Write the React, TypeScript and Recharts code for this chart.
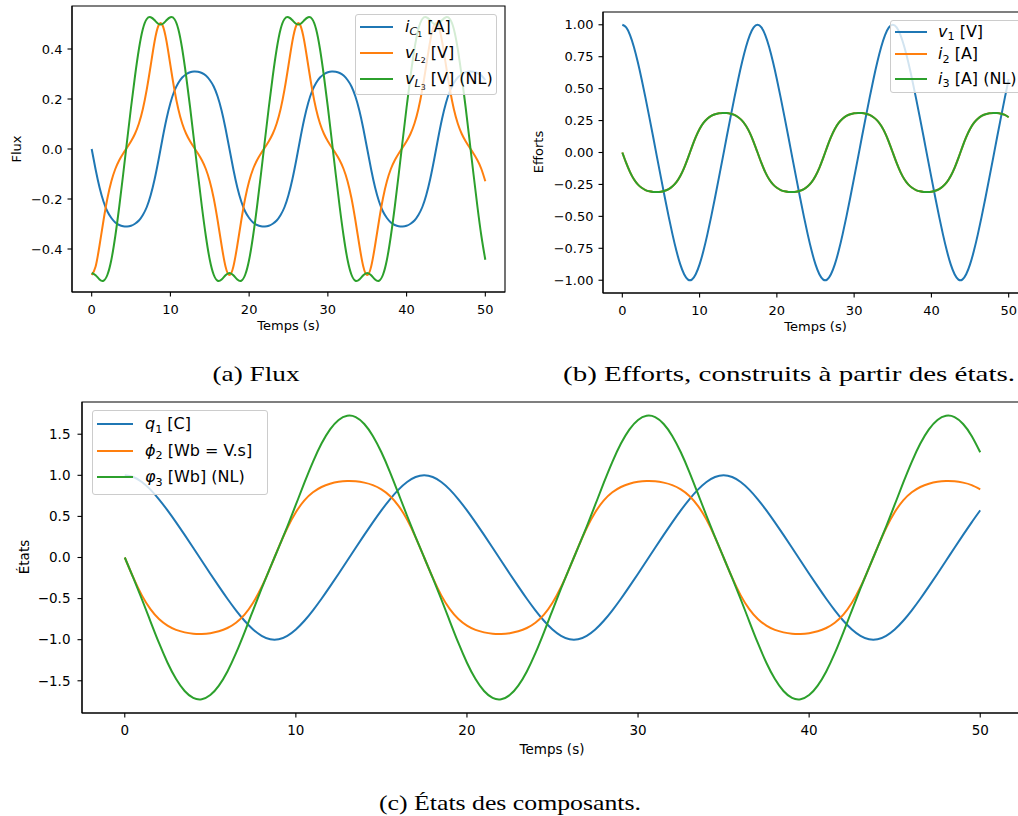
import React from 'react';
import { LineChart, Line, XAxis, YAxis, ReferenceArea } from 'recharts';

// ---------------- data ----------------
const time = [
  0, 0.5, 1, 1.5, 2, 2.5, 3, 3.5, 4, 4.5, 5, 5.5, 6, 6.5, 7, 7.5, 8, 8.5, 9, 9.5,
  10, 10.5, 11, 11.5, 12, 12.5, 13, 13.5, 14, 14.5, 15, 15.5, 16, 16.5, 17, 17.5, 18, 18.5, 19, 19.5,
  20, 20.5, 21, 21.5, 22, 22.5, 23, 23.5, 24, 24.5, 25, 25.5, 26, 26.5, 27, 27.5, 28, 28.5, 29, 29.5,
  30, 30.5, 31, 31.5, 32, 32.5, 33, 33.5, 34, 34.5, 35, 35.5, 36, 36.5, 37, 37.5, 38, 38.5, 39, 39.5,
  40, 40.5, 41, 41.5, 42, 42.5, 43, 43.5, 44, 44.5, 45, 45.5, 46, 46.5, 47, 47.5, 48, 48.5, 49, 49.5, 50,
];

// (a) Flux
const iC1 = [
  0, -0.082, -0.154, -0.21, -0.25, -0.276, -0.294, -0.304, -0.309, -0.31, -0.307, -0.299, -0.286, -0.264, -0.232, -0.184, -0.12, -0.042, 0.042, 0.12, 0.184, 0.232, 0.264, 0.286, 0.299, 0.307, 0.31, 0.309, 0.304, 0.294, 0.276, 0.25, 0.21, 0.154, 0.082,
  0, -0.082, -0.154, -0.21, -0.25, -0.276, -0.294, -0.304, -0.309, -0.31, -0.307, -0.299, -0.286, -0.264, -0.232, -0.184, -0.12, -0.042, 0.042, 0.12, 0.184, 0.232, 0.264, 0.286, 0.299, 0.307, 0.31, 0.309, 0.304, 0.294, 0.276, 0.25, 0.21, 0.154, 0.082,
  0, -0.082, -0.154, -0.21, -0.25, -0.276, -0.294, -0.304, -0.309, -0.31, -0.307, -0.299, -0.286, -0.264, -0.232, -0.184, -0.12, -0.042, 0.042, 0.12, 0.184, 0.232, 0.264, 0.286, 0.299, 0.307, 0.31, 0.309, 0.304, 0.294, 0.276,
];
const vL2 = [
  -0.504, -0.47, -0.385, -0.286, -0.197, -0.129, -0.08, -0.045, -0.018, 0.006, 0.031, 0.061, 0.102, 0.16, 0.239, 0.335, 0.432, 0.495, 0.495, 0.432, 0.335, 0.239, 0.16, 0.102, 0.061, 0.031, 0.006, -0.018, -0.045, -0.08, -0.129, -0.197, -0.286, -0.385, -0.47,
  -0.504, -0.47, -0.385, -0.286, -0.197, -0.129, -0.08, -0.045, -0.018, 0.006, 0.031, 0.061, 0.102, 0.16, 0.239, 0.335, 0.432, 0.495, 0.495, 0.432, 0.335, 0.239, 0.16, 0.102, 0.061, 0.031, 0.006, -0.018, -0.045, -0.08, -0.129, -0.197, -0.286, -0.385, -0.47,
  -0.504, -0.47, -0.385, -0.286, -0.197, -0.129, -0.08, -0.045, -0.018, 0.006, 0.031, 0.061, 0.102, 0.16, 0.239, 0.335, 0.432, 0.495, 0.495, 0.432, 0.335, 0.239, 0.16, 0.102, 0.061, 0.031, 0.006, -0.018, -0.045, -0.08, -0.129,
];
const vL3 = [
  -0.496, -0.505, -0.522, -0.527, -0.503, -0.443, -0.348, -0.231, -0.101, 0.034, 0.167, 0.291, 0.4, 0.48, 0.52, 0.527, 0.515, 0.5, 0.5, 0.515, 0.527, 0.52, 0.48, 0.4, 0.291, 0.167, 0.034, -0.101, -0.231, -0.348, -0.443, -0.503, -0.527, -0.522, -0.505,
  -0.496, -0.505, -0.522, -0.527, -0.503, -0.443, -0.348, -0.231, -0.101, 0.034, 0.167, 0.291, 0.4, 0.48, 0.52, 0.527, 0.515, 0.5, 0.5, 0.515, 0.527, 0.52, 0.48, 0.4, 0.291, 0.167, 0.034, -0.101, -0.231, -0.348, -0.443, -0.503, -0.527, -0.522, -0.505,
  -0.496, -0.505, -0.522, -0.527, -0.503, -0.443, -0.348, -0.231, -0.101, 0.034, 0.167, 0.291, 0.4, 0.48, 0.52, 0.527, 0.515, 0.5, 0.5, 0.515, 0.527, 0.52, 0.48, 0.4, 0.291, 0.167, 0.034, -0.101, -0.231, -0.348, -0.443,
];

// (c) States
const q1 = [
  1, 0.979, 0.919, 0.826, 0.708, 0.574, 0.428, 0.275, 0.119, -0.04, -0.197, -0.352, -0.502, -0.643, -0.77, -0.876, -0.953, -0.995, -0.995, -0.953, -0.876, -0.77, -0.643, -0.502, -0.352, -0.197, -0.04, 0.119, 0.275, 0.428, 0.574, 0.708, 0.826, 0.919, 0.979,
  1, 0.979, 0.919, 0.826, 0.708, 0.574, 0.428, 0.275, 0.119, -0.04, -0.197, -0.352, -0.502, -0.643, -0.77, -0.876, -0.953, -0.995, -0.995, -0.953, -0.876, -0.77, -0.643, -0.502, -0.352, -0.197, -0.04, 0.119, 0.275, 0.428, 0.574, 0.708, 0.826, 0.919, 0.979,
  1, 0.979, 0.919, 0.826, 0.708, 0.574, 0.428, 0.275, 0.119, -0.04, -0.197, -0.352, -0.502, -0.643, -0.77, -0.876, -0.953, -0.995, -0.995, -0.953, -0.876, -0.77, -0.643, -0.502, -0.352, -0.197, -0.04, 0.119, 0.275, 0.428, 0.574,
];
const phi2 = [
  0, -0.246, -0.461, -0.629, -0.749, -0.829, -0.881, -0.911, -0.927, -0.93, -0.921, -0.898, -0.858, -0.793, -0.695, -0.551, -0.359, -0.125, 0.125, 0.359, 0.551, 0.695, 0.793, 0.858, 0.898, 0.921, 0.93, 0.927, 0.911, 0.881, 0.829, 0.749, 0.629, 0.461, 0.246,
  0, -0.246, -0.461, -0.629, -0.749, -0.829, -0.881, -0.911, -0.927, -0.93, -0.921, -0.898, -0.858, -0.793, -0.695, -0.551, -0.359, -0.125, 0.125, 0.359, 0.551, 0.695, 0.793, 0.858, 0.898, 0.921, 0.93, 0.927, 0.911, 0.881, 0.829, 0.749, 0.629, 0.461, 0.246,
  0, -0.246, -0.461, -0.629, -0.749, -0.829, -0.881, -0.911, -0.927, -0.93, -0.921, -0.898, -0.858, -0.793, -0.695, -0.551, -0.359, -0.125, 0.125, 0.359, 0.551, 0.695, 0.793, 0.858, 0.898, 0.921, 0.93, 0.927, 0.911, 0.881, 0.829,
];
const phi3 = [
  0, -0.249, -0.508, -0.776, -1.04, -1.28, -1.479, -1.624, -1.708, -1.724, -1.674, -1.559, -1.386, -1.164, -0.91, -0.642, -0.377, -0.124, 0.124, 0.377, 0.642, 0.91, 1.164, 1.386, 1.559, 1.674, 1.724, 1.708, 1.624, 1.479, 1.28, 1.04, 0.776, 0.508, 0.249,
  0, -0.249, -0.508, -0.776, -1.04, -1.28, -1.479, -1.624, -1.708, -1.724, -1.674, -1.559, -1.386, -1.164, -0.91, -0.642, -0.377, -0.124, 0.124, 0.377, 0.642, 0.91, 1.164, 1.386, 1.559, 1.674, 1.724, 1.708, 1.624, 1.479, 1.28, 1.04, 0.776, 0.508, 0.249,
  0, -0.249, -0.508, -0.776, -1.04, -1.28, -1.479, -1.624, -1.708, -1.724, -1.674, -1.559, -1.386, -1.164, -0.91, -0.642, -0.377, -0.124, 0.124, 0.377, 0.642, 0.91, 1.164, 1.386, 1.559, 1.674, 1.724, 1.708, 1.624, 1.479, 1.28,
];

// (b) Efforts: v1 = q1 / C (C = 1), i2 and i3 coincide with iC1 in the picture
const v1 = q1;
const i2 = iC1;
const i3 = iC1;

const xTicks = [0, 10, 20, 30, 40, 50];
const fluxTicks = [-0.4, -0.2, 0, 0.2, 0.4];
const effortTicks = [-1, -0.75, -0.5, -0.25, 0, 0.25, 0.5, 0.75, 1];
const stateTicks = [-1.5, -1, -0.5, 0, 0.5, 1, 1.5];

const fluxData = time.map((t, k) => ({ t, iC1: iC1[k], vL2: vL2[k], vL3: vL3[k] }));
const effortData = time.map((t, k) => ({ t, v1: v1[k], i2: i2[k], i3: i3[k] }));
const stateData = time.map((t, k) => ({ t, q1: q1[k], phi2: phi2[k], phi3: phi3[k] }));

// ---------------- styles ----------------
const FONT = '"DejaVu Sans", Verdana, sans-serif';
const SERIF = '"Liberation Serif", "DejaVu Serif", serif';
const BLUE = '#1f77b4';
const ORANGE = '#ff7f0e';
const GREEN = '#2ca02c';
const X_DOMAIN: [number, number] = [-2.5, 52.5];

const fmt = (d: number) => (v: number) => {
  const s = Math.abs(v).toFixed(d);
  return v < -1e-9 ? '\u2212' + s : s;
};

type Series = { key: string; color: string };

function Panel(props: {
  left: number; top: number; width: number; height: number;
  mTop: number; mRight: number; yWidth: number; xHeight: number;
  data: any[]; yDomain: [number, number]; yTicks: number[]; yFmt: (v: number) => string;
  series: Series[]; fontSize: number; yMargin: number; xMargin: number;
}) {
  const p = props;
  const tickStyle = { fontSize: p.fontSize, fill: '#000', fontFamily: FONT };
  const axisLine = { stroke: '#000', strokeWidth: 1.1 };
  return (
    <div style={{ position: 'absolute', left: p.left, top: p.top }}>
      <LineChart width={p.width} height={p.height} data={p.data}
        margin={{ top: p.mTop, right: p.mRight, bottom: 0, left: 0 }}>
        <XAxis xAxisId="b" type="number" dataKey="t" domain={X_DOMAIN} ticks={xTicks}
          allowDataOverflow interval={0} height={p.xHeight} tick={tickStyle}
          tickSize={4.5} tickMargin={p.xMargin} axisLine={axisLine} tickLine={{ stroke: '#000', strokeWidth: 1.1 }}
          tickFormatter={(v: number) => String(v)} />
        <YAxis yAxisId="l" type="number" domain={p.yDomain} ticks={p.yTicks} allowDataOverflow
          interval={0} width={p.yWidth} tick={tickStyle} tickSize={4.5} tickMargin={p.yMargin}
          axisLine={axisLine} tickLine={{ stroke: '#000', strokeWidth: 1.1 }} tickFormatter={p.yFmt} />
        {p.series.map((s) => (
          <Line key={s.key} xAxisId="b" yAxisId="l" dataKey={s.key} type="natural"
            stroke={s.color} strokeWidth={2} dot={false} activeDot={false}
            isAnimationActive={false} />
        ))}
        <ReferenceArea xAxisId="b" yAxisId="l" x1={X_DOMAIN[0]} x2={X_DOMAIN[1]}
          y1={p.yDomain[0]} y2={p.yDomain[1]} fill="none" fillOpacity={0}
          stroke="#000" strokeWidth={1.1} ifOverflow="visible" />
      </LineChart>
    </div>
  );
}

const I = ({ children }: { children: React.ReactNode }) => (
  <span style={{ fontStyle: 'italic' }}>{children}</span>
);
const Sub = ({ children }: { children: React.ReactNode }) => (
  <span style={{ fontSize: '70%', position: 'relative', top: '0.3em' }}>{children}</span>
);

type Row = { y: number; color: string; label: React.ReactNode };

function LegendBox(p: {
  left: number; top: number; width: number; height: number;
  x0: number; x1: number; textX: number; rows: Row[];
}) {
  return (
    <div style={{
      position: 'absolute', left: p.left, top: p.top, width: p.width, height: p.height,
      boxSizing: 'border-box', background: 'rgba(255,255,255,0.8)',
      border: '1px solid #cccccc', borderRadius: 3,
    }}>
      {p.rows.map((r, k) => (
        <React.Fragment key={k}>
          <div style={{
            position: 'absolute', left: p.x0 - 1, top: r.y - 2, width: p.x1 - p.x0,
            height: 2, background: r.color,
          }} />
          <div style={{
            position: 'absolute', left: p.textX - 1, top: r.y - 1, transform: 'translateY(-50%)',
            fontFamily: FONT, fontSize: 16, lineHeight: 1, whiteSpace: 'nowrap', color: '#000',
          }}>{r.label}</div>
        </React.Fragment>
      ))}
    </div>
  );
}

export default function App() {
  return (
    <div style={{
      position: 'absolute', left: 0, top: 0, width: 1018, height: 816,
      overflow: 'hidden', background: '#fff',
    }}>
      <Panel left={0} top={0} width={510} height={340} mTop={6} mRight={5} yWidth={72} xHeight={48}
        data={fluxData} yDomain={[-0.572, 0.572]} yTicks={fluxTicks} yFmt={fmt(1)}
        fontSize={13} yMargin={5} xMargin={8}
        series={[{ key: 'iC1', color: BLUE }, { key: 'vL2', color: ORANGE }, { key: 'vL3', color: GREEN }]} />
      <Panel left={510} top={0} width={518} height={345} mTop={12} mRight={0} yWidth={93} xHeight={52}
        data={effortData} yDomain={[-1.1, 1.1]} yTicks={effortTicks} yFmt={fmt(2)}
        fontSize={13} yMargin={5} xMargin={8}
        series={[{ key: 'v1', color: BLUE }, { key: 'i2', color: ORANGE }, { key: 'i3', color: GREEN }]} />
      <Panel left={0} top={390} width={1023} height={380} mTop={12} mRight={0} yWidth={82} xHeight={57}
        data={stateData} yDomain={[-1.892, 1.892]} yTicks={stateTicks} yFmt={fmt(1)}
        fontSize={13.5} yMargin={7} xMargin={8}
        series={[{ key: 'q1', color: BLUE }, { key: 'phi2', color: ORANGE }, { key: 'phi3', color: GREEN }]} />

      <LegendBox left={355} top={14} width={142} height={81} x0={5} x1={38} textX={50}
        rows={[
          { y: 12.7, color: BLUE, label: <span><I>i</I><Sub><I>C</I><Sub>1</Sub></Sub> [A]</span> },
          { y: 38.7, color: ORANGE, label: <span><I>v</I><Sub><I>L</I><Sub>2</Sub></Sub> [V]</span> },
          { y: 65, color: GREEN, label: <span><I>v</I><Sub><I>L</I><Sub>3</Sub></Sub> [V] (NL)</span> },
        ]} />
      <LegendBox left={890} top={19.5} width={140} height={73} x0={5} x1={37} textX={48}
        rows={[
          { y: 12.2, color: BLUE, label: <span><I>v</I><Sub>1</Sub> [V]</span> },
          { y: 34.8, color: ORANGE, label: <span><I>i</I><Sub>2</Sub> [A]</span> },
          { y: 59.2, color: GREEN, label: <span><I>i</I><Sub>3</Sub> [A] (NL)</span> },
        ]} />
      <LegendBox left={92} top={410} width={176} height={85} x0={5} x1={41} textX={53}
        rows={[
          { y: 14.3, color: BLUE, label: <span><I>q</I><Sub>1</Sub> [C]</span> },
          { y: 40.7, color: ORANGE, label: <span><I>{'\u03D5'}</I><Sub>2</Sub> [Wb = V.s]</span> },
          { y: 67.3, color: GREEN, label: <span><I>{'\u03C6'}</I><Sub>3</Sub> [Wb] (NL)</span> },
        ]} />

      <svg width={1018} height={816} style={{ position: 'absolute', left: 0, top: 0, pointerEvents: 'none' }}>
        <g fontFamily={FONT} fill="#000" fontSize={13}>
          <text x={16} y={149} textAnchor="middle" dominantBaseline="central" transform="rotate(-90 16 149)">Flux</text>
          <text x={288.5} y={325} textAnchor="middle" dominantBaseline="central">Temps (s)</text>
          <text x={538} y={152} textAnchor="middle" dominantBaseline="central" transform="rotate(-90 538 152)">Efforts</text>
          <text x={815.5} y={326} textAnchor="middle" dominantBaseline="central">Temps (s)</text>
          <text x={24} y={557} textAnchor="middle" dominantBaseline="central" fontSize={13.5} transform="rotate(-90 24 557)">États</text>
          <text x={552} y={749} textAnchor="middle" dominantBaseline="central" fontSize={13.5}>Temps (s)</text>
        </g>
        <g fontFamily={SERIF} fill="#000" fontSize={22}>
          <text x={256} y={373} textAnchor="middle" dominantBaseline="central" textLength={87} lengthAdjust="spacingAndGlyphs">(a) Flux</text>
          <text x={789} y={373} textAnchor="middle" dominantBaseline="central" textLength={452} lengthAdjust="spacingAndGlyphs">(b) Efforts, construits à partir des états.</text>
          <text x={510} y={802} textAnchor="middle" dominantBaseline="central" textLength={262} lengthAdjust="spacingAndGlyphs">(c) États des composants.</text>
        </g>
      </svg>
    </div>
  );
}
